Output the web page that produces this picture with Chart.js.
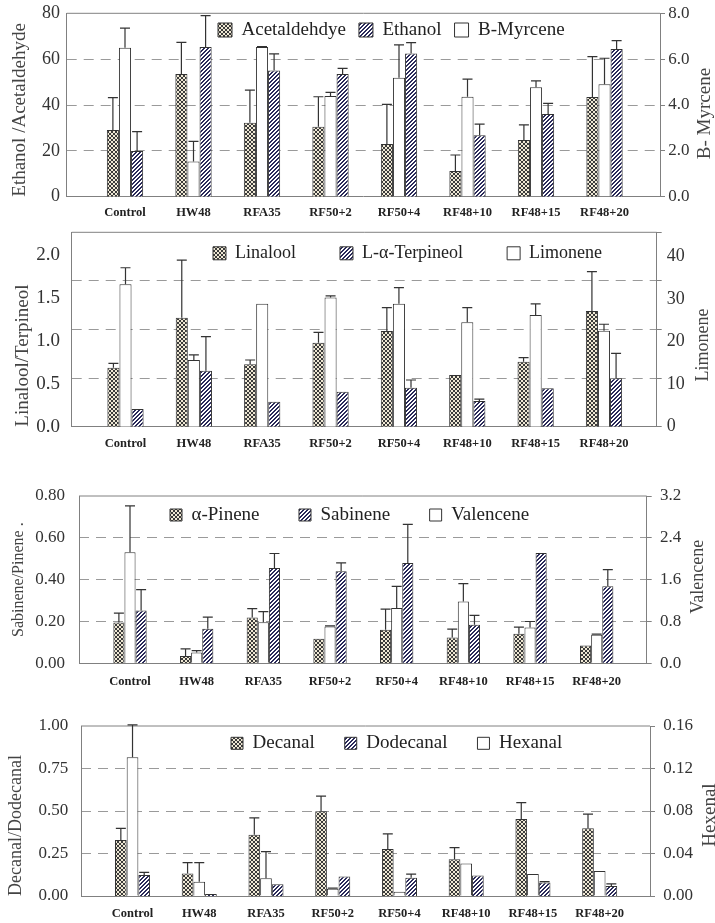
<!DOCTYPE html>
<html>
<head>
<meta charset="utf-8">
<script src="https://cdn.jsdelivr.net/npm/chart.js@4.4.0/dist/chart.umd.min.js"></script>
<style>
  body { margin: 0; background: #fff; }
  canvas { position: absolute; left: 0; }
</style>
</head>
<body>
<canvas id="c1" width="715" height="225" style="top:0px"></canvas>
<canvas id="c2" width="715" height="232" style="top:225px"></canvas>
<canvas id="c3" width="715" height="243" style="top:457px"></canvas>
<canvas id="c4" width="715" height="223" style="top:700px"></canvas>
<script>
const categories = ['Control', 'HW48', 'RFA35', 'RF50+2', 'RF50+4', 'RF48+10', 'RF48+15', 'RF48+20'];

// panel 1
const acetaldehyde    = [29.1, 53.5, 32.3, 30.5, 23.0, 11.2, 24.7, 43.5];
const acetaldehydeErr = [14.1, 13.8, 14.2, 13.1, 17.3, 7.0, 6.6, 17.6];
const myrcene         = [6.50, 1.53, 6.53, 4.39, 5.19, 4.36, 4.77, 4.90];
const myrceneErr      = [0.85, 0.88, 0.02, 0.16, 1.43, 0.77, 0.28, 1.14];
const ethanol         = [19.9, 65.3, 55.0, 53.5, 62.5, 26.8, 36.1, 64.4];
const ethanolErr      = [8.5, 13.7, 7.3, 2.5, 4.7, 4.9, 4.6, 3.7];

// panel 2
const linalool     = [0.687, 1.27, 0.726, 0.979, 1.115, 0.602, 0.757, 1.348];
const linaloolErr  = [0.051, 0.67, 0.051, 0.12, 0.271, 0, 0.047, 0.458];
const limonene     = [33.5, 15.7, 28.9, 30.4, 28.9, 24.6, 26.3, 22.6];
const limoneneErr  = [3.9, 1.2, 0, 0.4, 3.8, 3.4, 2.6, 1.5];
const terpineol    = [0.206, 0.652, 0.291, 0.408, 0.454, 0.299, 0.447, 0.563];
const terpineolErr = [0, 0.397, 0, 0, 0.09, 0.023, 0, 0.291];

// panel 3
const pinene       = [0.195, 0.035, 0.219, 0.117, 0.160, 0.123, 0.141, 0.085];
const pineneErr    = [0.045, 0.034, 0.042, 0, 0.099, 0.040, 0.032, 0];
const valencene    = [2.125, 0.205, 0.787, 0.704, 1.056, 1.184, 0.685, 0.544];
const valenceneErr = [0.885, 0.038, 0.203, 0.013, 0.414, 0.339, 0.115, 0.013];
const sabinene     = [0.253, 0.165, 0.456, 0.440, 0.480, 0.184, 0.528, 0.368];
const sabineneErr  = [0.099, 0.056, 0.069, 0.040, 0.184, 0.045, 0, 0.080];

// panel 4
const decanal      = [0.329, 0.133, 0.361, 0.498, 0.276, 0.216, 0.453, 0.398];
const decanalErr   = [0.069, 0.063, 0.098, 0.090, 0.089, 0.068, 0.096, 0.084];
const hexanal      = [0.1305, 0.0135, 0.0166, 0.0069, 0.0041, 0.0307, 0.0207, 0.0235];
const hexanalErr   = [0.0305, 0.0179, 0.0251, 0.0006, 0, 0, 0, 0];
const dodecanal    = [0.124, 0.012, 0.069, 0.114, 0.108, 0.120, 0.080, 0.059];
const dodecanalErr = [0.015, 0, 0, 0, 0.021, 0, 0.004, 0.012];

const serif = '"Liberation Serif", "Times New Roman", serif';
const axisGray = '#808080';
const gridGray = '#9a9a9a';

// bar fills
function crossFill() {
  const c = document.createElement('canvas');
  c.width = 4; c.height = 4;
  const g = c.getContext('2d');
  g.fillStyle = '#efe8d4';
  g.fillRect(0, 0, 4, 4);
  g.fillStyle = '#3a3a3a';
  for (let i = 0; i < 4; i++) {
    g.fillRect(i, i, 1, 1);
    g.fillRect(3 - i, i, 1, 1);
  }
  return g.createPattern(c, 'repeat');
}
function hatchFill() {
  const c = document.createElement('canvas');
  c.width = 4; c.height = 4;
  const g = c.getContext('2d');
  g.fillStyle = '#ffffff';
  g.fillRect(0, 0, 4, 4);
  g.fillStyle = '#2a2a5a';
  for (let x = 0; x < 4; x++) {
    for (let y = 0; y < 4; y++) {
      const k = (x + y) % 4;
      if (k === 3 || k === 0) g.fillRect(x, y, 1, 1);
    }
  }
  return g.createPattern(c, 'repeat');
}
const CROSS = crossFill();
const HATCH = hatchFill();

const pts = vals => vals.map((v, i) => ({ x: i, y: v }));

function series(label, vals, errs, fill, axis) {
  return {
    label: label, data: pts(vals), errors: errs, yAxisID: axis,
    backgroundColor: fill, borderColor: '#333', borderWidth: 1
  };
}

// error bars drawn on top of the bars
const errorBars = {
  id: 'errorBars',
  afterDatasetsDraw(chart) {
    const ctx = chart.ctx;
    chart.data.datasets.forEach((ds, i) => {
      if (!ds.errors) return;
      const scale = chart.scales[ds.yAxisID];
      chart.getDatasetMeta(i).data.forEach((bar, j) => {
        const err = ds.errors[j];
        if (!err) return;
        const top = scale.getPixelForValue(ds.data[j].y + err);
        ctx.save();
        ctx.strokeStyle = '#333';
        ctx.lineWidth = 1.2;
        ctx.beginPath();
        ctx.moveTo(bar.x, bar.y);
        ctx.lineTo(bar.x, top);
        ctx.moveTo(bar.x - 5, top);
        ctx.lineTo(bar.x + 5, top);
        ctx.stroke();
        ctx.restore();
      });
    });
  }
};

// top edge of the plot box
const frameTop = {
  id: 'frameTop',
  beforeDatasetsDraw(chart) {
    const { ctx, chartArea: a } = chart;
    ctx.save();
    ctx.strokeStyle = axisGray;
    ctx.lineWidth = 1;
    ctx.beginPath();
    ctx.moveTo(a.left, a.top);
    ctx.lineTo(a.right, a.top);
    ctx.stroke();
    ctx.restore();
  }
};

// legend sits inside the plot area, takes no layout space
function insideLegend(x, cy) {
  return {
    id: 'insideLegend',
    beforeLayout(chart) {
      const lg = chart.legend;
      if (lg && !lg._inside) {
        const fit = lg.fit;
        lg.fit = function () { fit.call(this); this._realH = this.height; this.height = 0; };
        lg._inside = true;
      }
    },
    afterLayout(chart) {
      const lg = chart.legend;
      if (!lg) return;
      const o = lg.options.labels;
      const pad = o.padding;
      const size = o.font.size;
      lg.left = x - pad;
      lg.right = chart.chartArea.right;
      lg.top = cy - pad - size / 2;
      lg.bottom = lg.top + 2 * pad + size + 10;
      lg.width = lg.right - lg.left;
      lg.height = lg.bottom - lg.top;
    }
  };
}

// right-hand title, reading bottom to top like the left one
function sideTitle(text, x, y, size) {
  return {
    id: 'sideTitle',
    afterDraw(chart) {
      const ctx = chart.ctx;
      ctx.save();
      ctx.translate(x, y);
      ctx.rotate(-Math.PI / 2);
      ctx.font = size + 'px ' + serif;
      ctx.fillStyle = '#444';
      ctx.textAlign = 'center';
      ctx.textBaseline = 'middle';
      ctx.fillText(text, 0, 0);
      ctx.restore();
    }
  };
}

function xAxis(min, max, height, pad) {
  return {
    type: 'linear', position: 'bottom', min: min, max: max, offset: false,
    grid: { display: false, drawTicks: false },
    border: { display: true, color: axisGray, width: 1 },
    ticks: {
      stepSize: 1, autoSkip: false, maxRotation: 0, includeBounds: false, padding: pad,
      color: '#222', font: { family: serif, size: 12.5, weight: 'bold' },
      callback: v => categories[Math.round(v)] ?? ''
    },
    afterFit: s => { s.height = height; s.paddingLeft = 0; s.paddingRight = 0; }
  };
}

function leftAxis(o) {
  return {
    position: 'left', min: 0, max: o.max,
    grid: { display: false, drawTicks: false },
    border: { display: true, color: axisGray, width: 1 },
    ticks: {
      stepSize: o.step, includeBounds: false, padding: o.pad, color: '#333',
      font: { family: serif, size: o.size }, callback: v => v.toFixed(o.dec)
    },
    title: {
      display: true, text: o.title, color: '#444', align: o.align,
      font: { family: serif, size: o.titleSize }, padding: { top: o.titlePad, bottom: 0 }
    },
    afterFit: s => { s.width = o.width; s.paddingTop = 0; s.paddingBottom = 0; }
  };
}

// right axis carrying the dashed grid lines
function gridAxis(o) {
  const eps = o.step / 1000;
  return {
    position: 'right', min: 0, max: o.max, weight: 0,
    grid: {
      drawOnChartArea: true, drawTicks: true, tickLength: 5, tickColor: axisGray, tickBorderDash: [],
      color: c => (c.tick && c.tick.value > eps && c.tick.value < o.max - eps) ? gridGray : 'transparent'
    },
    border: { display: true, color: axisGray, width: 1, dash: [10, 7] },
    ticks: {
      display: o.labels !== false, stepSize: o.step, includeBounds: false, padding: o.pad || 0,
      color: '#333', font: { family: serif, size: o.size || 17 },
      callback: v => v.toFixed(o.dec || 0)
    },
    afterFit: s => { s.width = o.width; s.paddingTop = 0; s.paddingBottom = 0; }
  };
}

function legendOpts(order, size, box, pad) {
  return {
    display: true, position: 'top', align: 'start',
    labels: {
      color: '#222', font: { family: serif, size: size },
      boxWidth: box, boxHeight: box, padding: pad,
      sort: (a, b) => order.indexOf(a.text) - order.indexOf(b.text)
    }
  };
}

function makePanel(id, p) {
  return new Chart(document.getElementById(id), {
    type: 'bar',
    data: { datasets: p.datasets },
    options: {
      responsive: false, animation: false, devicePixelRatio: 1,
      layout: { padding: { top: p.top, left: 0, right: 0, bottom: 0 }, autoPadding: false },
      datasets: { bar: { categoryPercentage: p.cat, barPercentage: 1 } },
      plugins: { legend: p.legend, tooltip: { enabled: false } },
      scales: p.scales
    },
    plugins: [frameTop, errorBars, insideLegend(p.legendX, p.legendY), sideTitle(p.rt[0], p.rt[1], p.rt[2], p.rt[3])]
  });
}

makePanel('c1', {
  top: 13.3, cat: 0.53, legendX: 218, legendY: 30,
  legend: legendOpts(['Acetaldehdye', 'Ethanol', 'B-Myrcene'], 19, 14, 13),
  rt: ['B- Myrcene', 705, 113.5, 19],
  datasets: [
    series('Acetaldehdye', acetaldehyde, acetaldehydeErr, CROSS, 'y'),
    series('B-Myrcene', myrcene, myrceneErr, '#ffffff', 'y1'),
    series('Ethanol', ethanol, ethanolErr, HATCH, 'y')
  ],
  scales: {
    x: xAxis(-0.851, 7.81, 28.3, 9),
    y: leftAxis({ max: 80, step: 20, dec: 0, pad: 6.7, size: 18, width: 66.7,
      title: 'Ethanol /Acetaldehyde', titleSize: 19, titlePad: 8.6, align: 'start' }),
    y1: gridAxis({ max: 8, step: 2, dec: 1, pad: 3.3, size: 17, width: 55 })
  }
});

makePanel('c2', {
  top: 7.3, cat: 0.53, legendX: 213, legendY: 28.3,
  legend: legendOpts(['Linalool', 'L-α-Terpineol', 'Limonene'], 18, 13, 44),
  rt: ['Limonene', 703, 120, 18],
  datasets: [
    series('Linalool', linalool, linaloolErr, CROSS, 'y'),
    series('Limonene', limonene, limoneneErr, '#ffffff', 'y1'),
    series('L-α-Terpineol', terpineol, terpineolErr, HATCH, 'y')
  ],
  scales: {
    x: xAxis(-0.787, 7.771, 30.3, 10),
    y: leftAxis({ max: 2.264, step: 0.5, dec: 1, pad: 11.7, size: 19, width: 71.7,
      title: 'Linalool/Terpineol', titleSize: 19, titlePad: 11.6, align: 'start' }),
    yg: gridAxis({ max: 4, step: 1, labels: false, width: 6 }),
    y1: {
      position: 'right', min: 0, max: 45.74, weight: 1,
      grid: { display: false, drawTicks: false },
      border: { display: false },
      ticks: { stepSize: 10, includeBounds: false, padding: 4, color: '#333',
        font: { family: serif, size: 18 }, callback: v => v.toFixed(0) },
      afterFit: s => { s.width = 52.3; s.paddingTop = 0; s.paddingBottom = 0; }
    }
  }
});

makePanel('c3', {
  top: 39, cat: 0.5, legendX: 170, legendY: 58,
  legend: legendOpts(['α-Pinene', 'Sabinene', 'Valencene'], 19, 12, 39.5),
  rt: ['Valencene', 698.3, 119.7, 18],
  datasets: [
    series('α-Pinene', pinene, pineneErr, CROSS, 'y'),
    series('Valencene', valencene, valenceneErr, '#ffffff', 'y1'),
    series('Sabinene', sabinene, sabineneErr, HATCH, 'y')
  ],
  scales: {
    x: xAxis(-0.765, 7.75, 36.7, 11),
    y: leftAxis({ max: 0.8, step: 0.2, dec: 2, pad: 14, size: 17, width: 79,
      title: 'Sabinene/Pinene .', titleSize: 16, titlePad: 8.7, align: 'center' }),
    y1: gridAxis({ max: 3.2, step: 0.8, dec: 1, pad: 8.3, size: 17, width: 68.3 })
  }
});

makePanel('c4', {
  top: 26, cat: 0.525, legendX: 231, legendY: 43.3,
  legend: legendOpts(['Decanal', 'Dodecanal', 'Hexanal'], 19, 12, 30),
  rt: ['Hexenal', 710, 115, 19],
  datasets: [
    series('Decanal', decanal, decanalErr, CROSS, 'y'),
    series('Hexanal', hexanal, hexanalErr, '#ffffff', 'y1'),
    series('Dodecanal', dodecanal, dodecanalErr, HATCH, 'y')
  ],
  scales: {
    x: xAxis(-0.772, 7.754, 27, 10),
    y: leftAxis({ max: 1, step: 0.25, dec: 2, pad: 12.7, size: 17, width: 81,
      title: 'Decanal/Dodecanal', titleSize: 18, titlePad: 5.9, align: 'start' }),
    y1: gridAxis({ max: 0.16, step: 0.04, dec: 2, pad: 8.3, size: 17, width: 65 })
  }
});
</script>
</body>
</html>
